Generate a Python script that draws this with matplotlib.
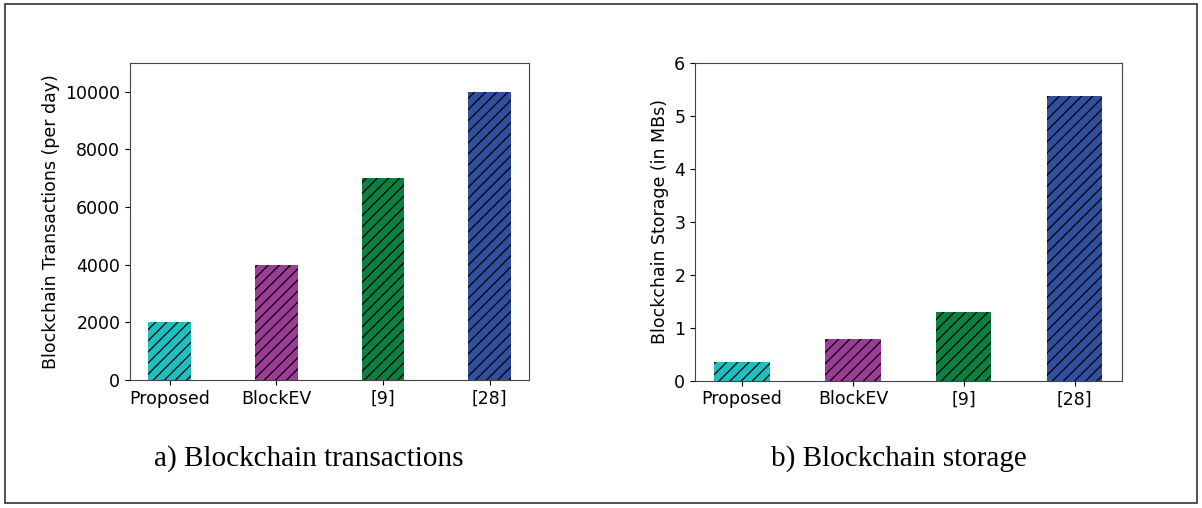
import matplotlib.pyplot as plt
from matplotlib.patches import Rectangle

# data
methods = ['Proposed', 'BlockEV', '[9]', '[28]']
transactions = [2000, 4000, 7000, 10000]
storage_mb = [0.36, 0.79, 1.30, 5.37]
colors = ['#1fbfbf', '#9b3c96', '#0b8040', '#30509f']

plt.rcParams['hatch.linewidth'] = 0.9
fig = plt.figure(figsize=(12.02, 5.08), dpi=100)

ax1 = fig.add_axes([0.1082, 0.252, 0.3319, 0.624])
ax1.bar(methods, transactions, width=0.4, color=colors, hatch='///', edgecolor='black', linewidth=0)
ax1.set_ylim(0, 11000)
ax1.set_yticks([0, 2000, 4000, 6000, 8000, 10000])
ax1.set_ylabel('Blockchain Transactions (per day)', fontsize=12.5)

ax2 = fig.add_axes([0.5782, 0.2506, 0.355, 0.626])
ax2.bar(methods, storage_mb, width=0.5, color=colors, hatch='///', edgecolor='black', linewidth=0)
ax2.set_ylim(0, 6)
ax2.set_yticks([0, 1, 2, 3, 4, 5, 6])
ax2.set_ylabel('Blockchain Storage (in MBs)', fontsize=12.5)

for ax in (ax1, ax2):
    ax.tick_params(labelsize=12.5)
    for s in ax.spines.values():
        s.set_color('#444444')

fig.text(0.2565, 0.098, 'a) Blockchain transactions', family='Liberation Serif',
         fontsize=21, ha='center', va='center')
fig.text(0.748, 0.098, 'b) Blockchain storage', family='Liberation Serif',
         fontsize=21, ha='center', va='center')

# frame round the whole figure
fig.patches.append(Rectangle((0.004, 0.01), 0.992, 0.982, transform=fig.transFigure,
                             fill=False, edgecolor='#333333', linewidth=1.2))

fig.savefig('out.png', dpi=100)
